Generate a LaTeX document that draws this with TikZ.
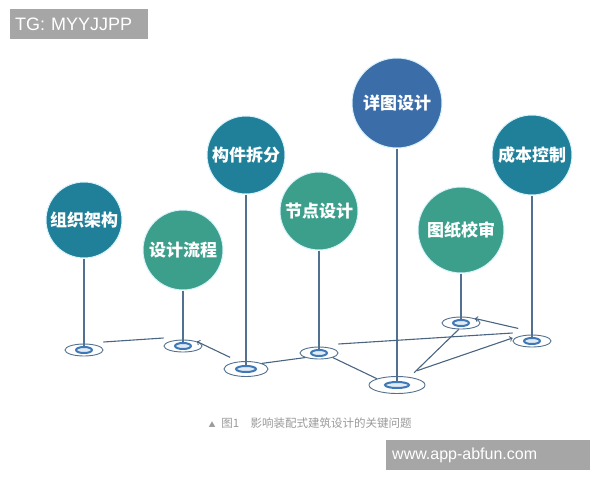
\documentclass[tikz,border=0pt]{standalone}
\usepackage{fontspec}
\setmainfont{Liberation Sans}
\newfontfamily\cjk{Noto Sans CJK SC}
\usetikzlibrary{shapes.geometric}

\definecolor{tealdark}{HTML}{20809A}
\definecolor{tealgreen}{HTML}{3C9F8B}
\definecolor{steelblue}{HTML}{3B6DA8}
\definecolor{stemgray}{HTML}{52708F}
\definecolor{ringblue}{HTML}{3E78B6}
\definecolor{markgray}{HTML}{A6A6A6}
\definecolor{captiongray}{HTML}{999999}

\begin{document}
\begin{tikzpicture}[x=1pt, y=-1pt,
  topic/.style = {circle, draw=cyan!15!white, line width=1pt, text=white, inner sep=0pt, font=\cjk\bfseries\fontsize{17}{17}\selectfont},
  base/.style = {ellipse, draw=stemgray, line width=0.9pt, minimum width=38pt, minimum height=12pt, inner sep=0pt},
  hub/.style = {ellipse, draw=ringblue, fill=ringblue!15, line width=2pt, minimum height=6pt, inner sep=0pt},
  stem/.style = {draw=stemgray, line width=1.3pt},
  link/.style = {draw=stemgray!90!black, line width=1.1pt},
  tag/.style = {fill=markgray, text=white, align=left, minimum height=30pt, inner ysep=0pt}]
\useasboundingbox (0,0) rectangle (600,480);

% topics
\node[topic, fill=tealdark, minimum size=76pt] (c1) at (84,220) {组织架构};
\node[topic, fill=tealgreen, minimum size=80pt] (c2) at (183,250) {设计流程};
\node[topic, fill=tealdark, minimum size=78pt] (c3) at (246,155) {构件拆分};
\node[topic, fill=tealgreen, minimum size=78pt] (c4) at (319,211) {节点设计};
\node[topic, fill=steelblue, minimum size=90pt] (c5) at (397,103) {详图设计};
\node[topic, fill=tealgreen, minimum size=86pt] (c6) at (461,230) {图纸校审};
\node[topic, fill=tealdark, minimum size=80pt] (c7) at (532,155) {成本控制};

% bases
\node[base] (b1) at (84,350) {};
\node[base] (b2) at (183,346) {};
\node[base, minimum width=44pt, minimum height=15pt] (b3) at (246,369) {};
\node[base] (b4) at (319,353) {};
\node[base, minimum width=56pt, minimum height=17pt] (b5) at (397,385) {};
\node[base] (b6) at (461,323) {};
\node[base] (b7) at (532,341) {};

\foreach \i in {1,...,7}
  \draw[stem] (c\i) -- (b\i.center);
\foreach \i/\w in {1/16,2/16,3/20,4/16,5/24,6/16,7/16}
  \node[hub, minimum width=\w pt] (h\i) at (b\i) {};

% links
\draw[link] ([yshift=8pt]b1.east) -- ([yshift=8pt]b2.west);
\draw[link, <-] (b2.north east) -- ([yshift=6pt]b3.north west);
\draw[link] (b3.north east) -- (b4.south west);
\draw[link] (b4.south east) -- (b5.north west);
\draw[link] ([yshift=9pt]b4.east) -- ([yshift=8pt]b7.west);
\draw[link, ->] ([yshift=8pt]b7.north west) -- (b6.north east);
\draw[link] ([shift={(-3pt,6pt)}]b5.north east) -- (b6.250);
\draw[link, ->] ([yshift=8pt]b5.north east) -- ([yshift=3pt]b7.west);

\node[anchor=west, text=captiongray, font=\cjk\fontsize{11.5}{11.5}\selectfont] (cap) at (205,423) {{\fontsize{7}{7}\selectfont ▲}\enspace 图1\quad 影响装配式建筑设计的关键问题};

\node[tag, anchor=north west, text width=128pt, inner xsep=5pt, font=\fontsize{18}{18}\selectfont] (tg) at (10,9) {TG: MYYJJPP};
\node[tag, anchor=north west, text width=192pt, inner xsep=6pt, font=\fontsize{16}{16}\selectfont] (www) at (386,440) {www.app-abfun.com};
\end{tikzpicture}
\end{document}
